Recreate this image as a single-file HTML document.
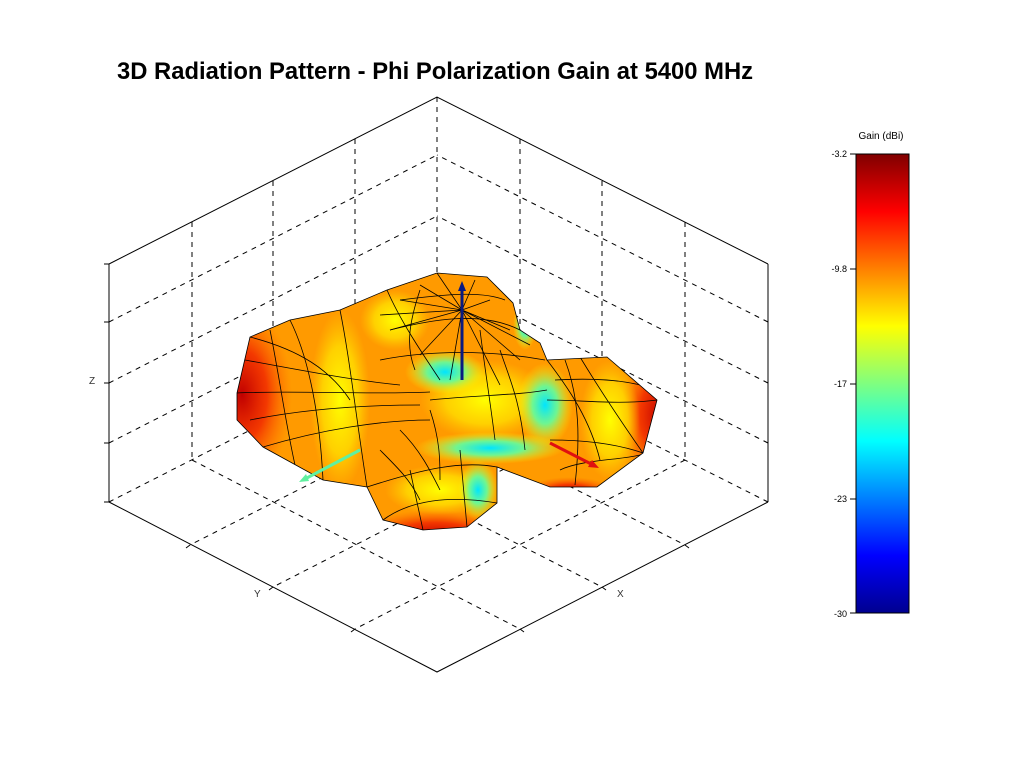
<!DOCTYPE html>
<html><head><meta charset="utf-8"><style>
html,body{margin:0;padding:0;background:#fff;}
svg{display:block;font-family:"Liberation Sans",sans-serif;}
</style></head><body>
<svg width="1033" height="768" viewBox="0 0 1033 768" xmlns="http://www.w3.org/2000/svg">
<defs>
<linearGradient id="jet" x1="0" y1="1" x2="0" y2="0">
<stop offset="0" stop-color="#00008f"/><stop offset="0.125" stop-color="#0000ff"/>
<stop offset="0.375" stop-color="#00ffff"/><stop offset="0.625" stop-color="#ffff00"/>
<stop offset="0.875" stop-color="#ff0000"/><stop offset="1" stop-color="#800000"/>
</linearGradient>
<clipPath id="blob"><path id="bp" d="M237,393 L250,337 L290,320 L340,310 L387,290 L437,273 L487,277 L513,303 L520,330 L540,343 L547,360 L607,357 L657,400 L643,453 L597,487 L550,487 L497,467 L497,503 L467,527 L423,530 L383,520 L367,487 L323,480 L263,447 L237,420 Z"/></clipPath>
<radialGradient id="cy1" cx="0.5" cy="0.5" r="0.5"><stop offset="0" stop-color="#00e5ff"/><stop offset="0.45" stop-color="#60ffa0" stop-opacity="0.9"/><stop offset="1" stop-color="#ffff00" stop-opacity="0"/></radialGradient>
<radialGradient id="rd" cx="0.5" cy="0.5" r="0.5"><stop offset="0" stop-color="#c00000"/><stop offset="0.5" stop-color="#f02000" stop-opacity="0.8"/><stop offset="1" stop-color="#ff6000" stop-opacity="0"/></radialGradient>
<radialGradient id="yl" cx="0.5" cy="0.5" r="0.5"><stop offset="0" stop-color="#ffff00"/><stop offset="0.6" stop-color="#ffe800" stop-opacity="0.7"/><stop offset="1" stop-color="#ffd000" stop-opacity="0"/></radialGradient>
</defs>
<rect width="1033" height="768" fill="#fff"/>
<text x="117" y="79" font-size="23.8" font-weight="bold">3D Radiation Pattern - Phi Polarization Gain at 5400 MHz</text>

<g stroke="#000" stroke-width="1" stroke-dasharray="5,5" fill="none">
<line x1="437" y1="97" x2="437" y2="335"/>
<line x1="192" y1="222" x2="192" y2="460"/><line x1="273" y1="181" x2="273" y2="419"/><line x1="355" y1="139" x2="355" y2="377"/>
<line x1="520" y1="139" x2="520" y2="377"/><line x1="602" y1="181" x2="602" y2="419"/><line x1="685" y1="222" x2="685" y2="460"/>
<line x1="109" y1="322" x2="437" y2="155"/><line x1="109" y1="383" x2="437" y2="216"/><line x1="109" y1="443" x2="437" y2="276"/>
<line x1="768" y1="322" x2="437" y2="155"/><line x1="768" y1="383" x2="437" y2="216"/><line x1="768" y1="443" x2="437" y2="276"/>
<line x1="109" y1="502" x2="437" y2="335"/><line x1="768" y1="502" x2="437" y2="335"/>
<line x1="192" y1="460" x2="520" y2="629"/><line x1="273" y1="419" x2="602" y2="587"/><line x1="355" y1="377" x2="685" y2="545"/>
<line x1="520" y1="377" x2="190" y2="545"/><line x1="602" y1="419" x2="273" y2="587"/><line x1="685" y1="460" x2="355" y2="629"/>
</g>
<g stroke="#000" stroke-width="1" fill="none">
<polyline points="109,264 437,97 768,264"/>
<line x1="109" y1="264" x2="109" y2="502"/><line x1="768" y1="264" x2="768" y2="502"/>
<polyline points="109,502 437,672 768,502"/>
<line x1="104" y1="264" x2="109" y2="264"/><line x1="104" y1="322" x2="109" y2="322"/><line x1="104" y1="383" x2="109" y2="383"/><line x1="104" y1="443" x2="109" y2="443"/><line x1="104" y1="502" x2="109" y2="502"/>
<line x1="190" y1="545" x2="186" y2="548"/><line x1="273" y1="587" x2="269" y2="590"/><line x1="355" y1="629" x2="351" y2="632"/>
<line x1="520" y1="629" x2="524" y2="632"/><line x1="602" y1="587" x2="606" y2="590"/><line x1="685" y1="545" x2="689" y2="548"/>
</g>
<text x="89" y="384" font-size="10" fill="#333">Z</text>
<text x="254" y="597" font-size="10" fill="#333">Y</text>
<text x="617" y="597" font-size="10" fill="#333">X</text>

<g clip-path="url(#blob)">
<rect x="230" y="260" width="440" height="280" fill="#ff9a00"/>
<ellipse cx="242" cy="395" rx="50" ry="90" fill="url(#rd)"/>
<ellipse cx="660" cy="415" rx="40" ry="70" fill="url(#rd)"/>
<ellipse cx="435" cy="535" rx="80" ry="25" fill="url(#rd)"/>
<ellipse cx="570" cy="492" rx="45" ry="15" fill="url(#rd)"/>
<ellipse cx="340" cy="400" rx="30" ry="90" fill="url(#yl)"/>
<ellipse cx="395" cy="320" rx="35" ry="30" fill="url(#yl)"/>
<ellipse cx="485" cy="400" rx="65" ry="40" fill="url(#yl)"/>
<ellipse cx="610" cy="420" rx="30" ry="60" fill="url(#yl)"/>
<ellipse cx="440" cy="490" rx="55" ry="25" fill="url(#yl)"/>
<ellipse cx="445" cy="372" rx="40" ry="22" fill="url(#cy1)"/>
<ellipse cx="545" cy="405" rx="28" ry="42" fill="url(#cy1)"/>
<ellipse cx="490" cy="448" rx="75" ry="16" fill="url(#cy1)"/>
<ellipse cx="478" cy="490" rx="20" ry="30" fill="url(#cy1)"/>
<ellipse cx="525" cy="325" rx="12" ry="25" fill="url(#cy1)"/>
<g stroke="#000" stroke-width="0.8" fill="none">
<path d="M462,310 L437,273 M462,310 L420,285 M462,310 L400,300 M462,310 L390,330 M462,310 L420,355 M462,310 L450,380 M462,310 L490,300 M462,310 L510,330 M462,310 L520,360 M462,310 L500,385 M462,310 L475,280 M462,310 L380,315 M462,310 L530,345"/>
<path d="M250,337 C300,350 330,370 350,400 M237,393 C300,390 360,395 430,392 M263,447 C320,430 380,420 430,420 M290,320 C310,360 320,420 323,480 M340,310 C350,360 355,410 367,487 M387,290 C400,320 420,350 440,380 M270,330 C280,380 285,420 295,465 M245,360 C300,370 350,380 400,385 M250,420 C300,410 360,405 420,405"/>
<path d="M390,330 C430,320 480,310 520,330 M380,360 C430,350 490,350 545,360 M430,400 C480,395 520,395 547,390 M367,487 C420,470 460,460 497,467 M383,520 C410,500 450,495 497,503 M410,470 L423,530 M460,450 L467,527 M400,300 C440,295 480,290 505,300 M420,290 C410,320 405,345 415,370"/>
<path d="M547,360 C570,390 590,420 600,460 M580,357 C600,390 620,420 643,453 M547,400 C580,400 620,405 657,400 M550,440 C590,440 620,445 643,453 M560,470 C580,460 620,460 640,455 M555,380 C590,378 620,380 640,385 M565,360 C580,400 580,440 575,485"/>
<path d="M480,330 C485,370 490,400 495,440 M430,410 C440,440 440,460 440,480 M500,350 C510,380 520,400 525,450 M400,430 C420,450 430,470 440,490 M380,450 C400,470 410,480 420,500"/>
</g>
</g>
<use href="#bp" fill="none" stroke="#000" stroke-width="0.8"/>
<g stroke-width="3" fill="none">
<line x1="462" y1="380" x2="462" y2="288" stroke="#0a1a80"/>
<line x1="550" y1="443" x2="595" y2="466" stroke="#e01010"/>
<line x1="360" y1="450" x2="303" y2="480" stroke="#60f0a0"/>
</g>
<polygon points="462,281 458,291 466,291" fill="#0a1a80"/>
<polygon points="599,468 588,467 592,460" fill="#e01010"/>
<polygon points="299,482 306,474 309,481" fill="#60f0a0"/>

<text x="881" y="139" font-size="10" text-anchor="middle">Gain (dBi)</text>
<rect x="856" y="154" width="53" height="459" fill="url(#jet)" stroke="#000" stroke-width="1"/>
<g font-size="9" text-anchor="end">
<text x="847" y="157">-3.2</text><text x="847" y="272">-9.8</text><text x="847" y="387">-17</text><text x="847" y="502">-23</text><text x="847" y="617">-30</text>
</g>
<g stroke="#000"><line x1="850" y1="154" x2="856" y2="154"/><line x1="850" y1="269" x2="856" y2="269"/><line x1="850" y1="384" x2="856" y2="384"/><line x1="850" y1="499" x2="856" y2="499"/><line x1="850" y1="613" x2="856" y2="613"/></g>
</svg>
</body></html>
